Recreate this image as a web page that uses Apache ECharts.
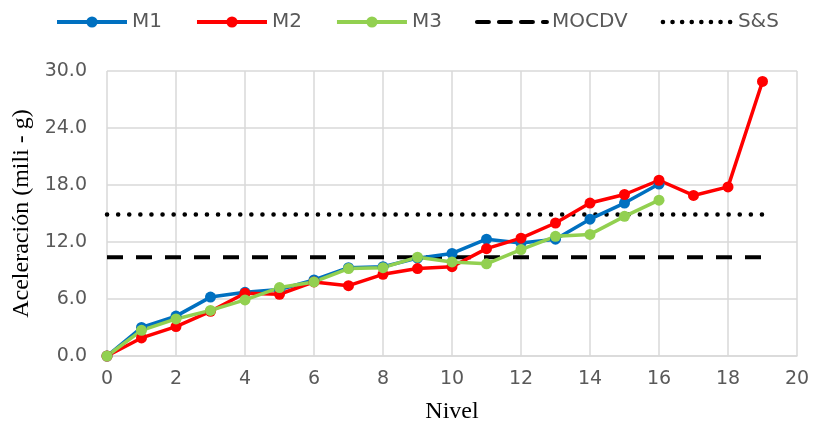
<!DOCTYPE html>
<html>
<head>
<meta charset="utf-8">
<script src="https://cdn.jsdelivr.net/npm/echarts@6/dist/echarts.min.js"></script>
<style>html,body{margin:0;padding:0;background:#fff}#c{width:813px;height:440px}</style>
</head>
<body>
<div id="c"></div>
<script>
var niveles = [0,1,2,3,4,5,6,7,8,9,10,11,12,13,14,15,16,17,18,19];
var m1 = [0,3.0,4.2,6.2,6.7,7.0,8.0,9.3,9.4,10.3,10.8,12.3,11.9,12.3,14.4,16.1,18.1];
var m2 = [0,1.9,3.1,4.7,6.6,6.5,7.8,7.4,8.6,9.2,9.4,11.3,12.4,14.0,16.1,17.0,18.5,16.9,17.8,28.9];
var m3 = [0,2.7,3.9,4.8,5.9,7.2,7.8,9.2,9.3,10.4,9.9,9.7,11.2,12.6,12.8,14.7,16.4];
var mocdvX = [0,19], mocdvY = [10.4,10.4];
var ssX = [0,19], ssY = [14.9,14.9];
var yTicks = ['0.0','6.0','12.0','18.0','24.0','30.0'];

function pairs(xs, ys){ return ys.map(function(v,i){ return [xs[i], v]; }); }

var sans = 'DejaVu Sans';
var serif = 'Liberation Serif';
var chart = echarts.init(document.getElementById('c'), null, {renderer:'canvas'});
function mk(name, data, color){
  return {name:name, type:'line', data:data, symbol:'circle', symbolSize:11,
    lineStyle:{color:color, width:3.5}, itemStyle:{color:color, borderWidth:0},
    emphasis:{disabled:true}, animation:false, z:3};
}
var dashType = [16,13], dotType = [0.1,11];
chart.setOption({
  animation:false,
  grid:{left:107, right:16, top:71, bottom:84, containLabel:false},
  legend:{top:12, left:55, padding:0, itemWidth:70, itemHeight:14, itemGap:33,
    textStyle:{fontFamily:sans, fontSize:20, color:'#595959'},
    data:[
      {name:'M1', lineStyle:{width:4}},
      {name:'M2', lineStyle:{width:4}},
      {name:'M3', lineStyle:{width:4}},
      {name:'MOCDV', itemStyle:{opacity:0}, lineStyle:{width:4, type:[12,10], cap:'round', color:'#000'}},
      {name:'S&S', itemStyle:{opacity:0}, lineStyle:{width:4.5, type:[0.1,9.5], cap:'round', color:'#000'}}
    ]},
  xAxis:{type:'value', min:0, max:20, interval:2,
    name:'Nivel', nameLocation:'middle', nameGap:44,
    nameTextStyle:{fontFamily:serif, fontSize:24, color:'#000'},
    axisLine:{show:true, lineStyle:{color:'#d9d9d9', width:1.5}},
    axisTick:{show:false},
    axisLabel:{fontFamily:sans, fontSize:19, color:'#595959', margin:14},
    splitLine:{show:true, lineStyle:{color:'#d9d9d9', width:1.5}}},
  yAxis:{type:'value', min:0, max:30, interval:6,
    name:'Aceleración (mili - g)', nameLocation:'middle', nameGap:72,
    nameTextStyle:{fontFamily:serif, fontSize:24, color:'#000'},
    axisLine:{show:false}, axisTick:{show:false},
    axisLabel:{fontFamily:sans, fontSize:19, color:'#595959', margin:20,
      formatter:function(v){ var i = Math.round(v/6); return yTicks[i]; }},
    splitLine:{show:true, lineStyle:{color:'#d9d9d9', width:1.5}}},
  series:[
    {name:'MOCDV', type:'line', data:pairs(mocdvX, mocdvY), symbol:'none', z:2,
      lineStyle:{color:'#000', width:4, type:dashType, cap:'butt'}, itemStyle:{color:'#000'}},
    {name:'S&S', type:'line', data:pairs(ssX, ssY), symbol:'none', z:2,
      lineStyle:{color:'#000', width:4.5, type:dotType, cap:'round'}, itemStyle:{color:'#000'}},
    mk('M1', pairs(niveles, m1), '#0070C0'),
    mk('M2', pairs(niveles, m2), '#FF0000'),
    mk('M3', pairs(niveles, m3), '#92D050')
  ]
});
</script>
</body>
</html>
